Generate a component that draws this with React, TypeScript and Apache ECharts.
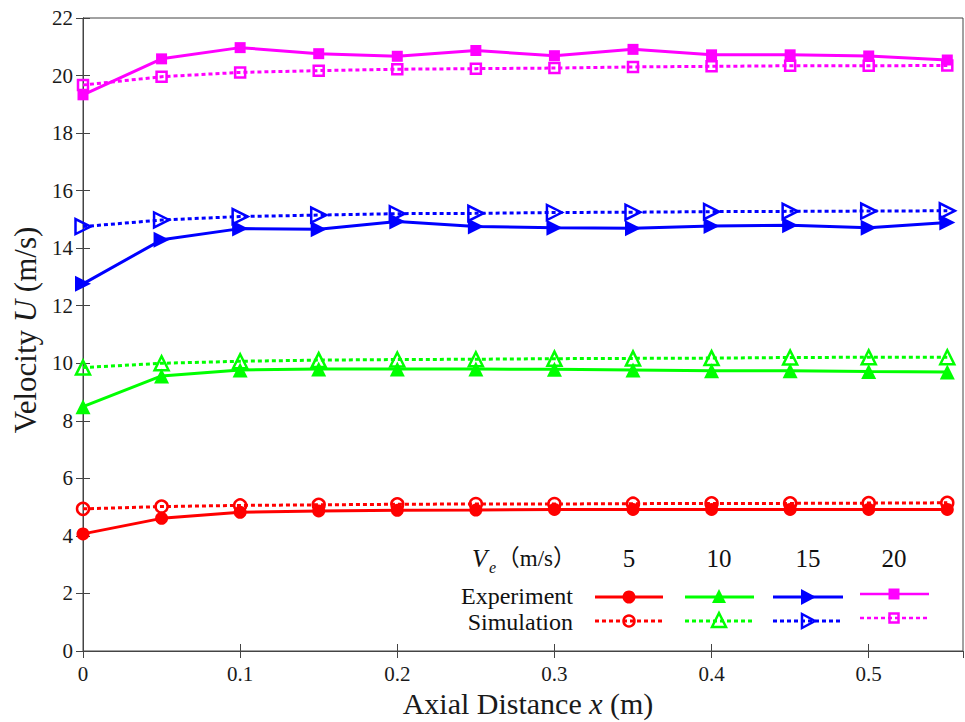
import React, { useEffect, useRef } from "react";
import * as echarts from "echarts";

const xs = [0, 0.05, 0.1, 0.15, 0.2, 0.25, 0.3, 0.35, 0.4, 0.45, 0.5, 0.55];
const exp5 = [4.07, 4.61, 4.82, 4.87, 4.89, 4.9, 4.92, 4.92, 4.92, 4.92, 4.92, 4.92];
const sim5 = [4.94, 5.02, 5.06, 5.08, 5.1, 5.11, 5.11, 5.12, 5.13, 5.13, 5.14, 5.15];
const exp10 = [8.49, 9.56, 9.77, 9.8, 9.8, 9.8, 9.79, 9.77, 9.74, 9.74, 9.71, 9.7];
const sim10 = [9.85, 10.0, 10.07, 10.11, 10.13, 10.14, 10.16, 10.17, 10.18, 10.2, 10.21, 10.21];
const exp15 = [12.76, 14.29, 14.68, 14.66, 14.93, 14.75, 14.71, 14.69, 14.77, 14.8, 14.71, 14.89];
const sim15 = [14.75, 14.98, 15.1, 15.15, 15.2, 15.21, 15.24, 15.25, 15.27, 15.28, 15.29, 15.3];
const exp20 = [19.33, 20.58, 20.97, 20.76, 20.67, 20.87, 20.69, 20.91, 20.72, 20.72, 20.68, 20.54];
const sim20 = [19.67, 19.96, 20.11, 20.17, 20.22, 20.24, 20.26, 20.3, 20.32, 20.34, 20.34, 20.35];

const veLabels = ["5", "10", "15", "20"];
const colors = ["#ff0000", "#00ff00", "#0000ff", "#ff00ff"];

const SERIF = "Liberation Serif, DejaVu Serif, Noto Sans CJK SC, serif";

function mk(name: string, vals: number[], color: string, symbol: string, size: number, rotate: number, sim: boolean) {
  return {
    name,
    type: "line",
    data: xs.map((x, i) => [x, vals[i]]),
    symbol,
    symbolSize: size,
    symbolRotate: rotate,
    clip: false,
    lineStyle: { color, width: 3, type: sim ? [4, 3] : "solid" },
    itemStyle: sim
      ? { color: "transparent", borderColor: color, borderWidth: 2.5 }
      : { color, borderColor: color, borderWidth: 0 },
    z: sim ? 2 : 3,
  };
}

function txt(x: number, y: number, text: string, size: number, align: string, italic = false) {
  return {
    type: "text",
    x,
    y,
    style: {
      text,
      fontFamily: SERIF,
      fontSize: size,
      lineHeight: Math.round(size * 0.9),
      fontStyle: italic ? "italic" : "normal",
      fill: "#111",
      verticalAlign: "middle",
      align,
    },
  };
}

function legendGraphics() {
  const g: any[] = [];
  const yE = 597;
  const yS = 621;
  g.push(txt(472, 558, "V", 25, "left", true));
  g.push(txt(489, 567, "e", 16, "left", true));
  g.push(txt(576, 558, "（m/s）", 23, "right"));
  g.push(txt(573, yE - 1, "Experiment", 24, "right"));
  g.push(txt(573, yS + 1, "Simulation", 24, "right"));
  const cols = [
    { x1: 595, x2: 663, cx: 629 },
    { x1: 685, x2: 754, cx: 719 },
    { x1: 773, x2: 843, cx: 808 },
    { x1: 860, x2: 929, cx: 894 },
  ];
  cols.forEach((c, i) => {
    const color = colors[i];
    const lw = i === 3 ? 2.5 : 3;
    const ye = i === 3 ? 594 : yE;
    const ys = i === 3 ? 618 : yS;
    g.push(txt(c.cx, 558, veLabels[i], 25, "center"));
    g.push({ type: "line", shape: { x1: c.x1, y1: ye, x2: c.x2, y2: ye }, style: { stroke: color, lineWidth: lw } });
    g.push({ type: "line", shape: { x1: c.x1, y1: ys, x2: c.x2, y2: ys }, style: { stroke: color, lineWidth: lw, lineDash: [4, 3] } });
    const filled = { fill: color, stroke: color, lineWidth: 0 };
    const hollow = { fill: "none", stroke: color, lineWidth: 2.5 };
    if (i === 0) {
      g.push({ type: "circle", shape: { cx: c.cx, cy: ye, r: 6.5 }, style: filled });
      g.push({ type: "circle", shape: { cx: c.cx, cy: ys, r: 5.5 }, style: hollow });
    } else if (i === 1) {
      g.push({ type: "polygon", shape: { points: [[c.cx, ye - 8], [c.cx + 7, ye + 6], [c.cx - 7, ye + 6]] }, style: filled });
      g.push({ type: "polygon", shape: { points: [[c.cx, ys - 8], [c.cx + 7, ys + 6], [c.cx - 7, ys + 6]] }, style: hollow });
    } else if (i === 2) {
      g.push({ type: "polygon", shape: { points: [[c.cx - 7, ye - 8], [c.cx + 8, ye], [c.cx - 7, ye + 8]] }, style: filled });
      g.push({ type: "polygon", shape: { points: [[c.cx - 6, ys - 7], [c.cx + 7, ys], [c.cx - 6, ys + 7]] }, style: hollow });
    } else {
      g.push({ type: "rect", shape: { x: c.cx - 5.5, y: ye - 5.5, width: 11, height: 11 }, style: filled });
      g.push({ type: "rect", shape: { x: c.cx - 4.5, y: ys - 4.5, width: 9, height: 9 }, style: hollow });
    }
  });
  return g;
}

export default function App() {
  const ref = useRef<HTMLDivElement>(null);
  useEffect(() => {
    if (!ref.current) return;
    const chart = echarts.init(ref.current, null, { renderer: "svg" });
    const axisColor = "#444";
    const labelStyle = { color: "#1a1a1a", fontSize: 21, fontFamily: SERIF };
    chart.setOption({
      animation: false,
      backgroundColor: "#fff",
      grid: {
        left: 83,
        right: 2,
        top: 18,
        bottom: 71,
        show: true,
        borderColor: axisColor,
        borderWidth: 1,
        containLabel: false,
        outerBoundsMode: "none",
      },
      xAxis: [
        {
          type: "value",
          min: 0,
          max: 0.56,
          interval: 0.1,
          position: "bottom",
          axisLine: { show: true, lineStyle: { color: axisColor, width: 1 } },
          axisTick: { show: true, inside: true, length: 7, lineStyle: { color: axisColor } },
          splitLine: { show: false },
          axisLabel: { ...labelStyle, margin: 12, showMaxLabel: false },
          name: "{n|Axial Distance }{i|x}{n| (m)}",
          nameLocation: "middle",
          nameGap: 34,
          nameTextStyle: {
            padding: [0, 0, 0, 10],
            rich: {
              n: { fontSize: 30, fontFamily: SERIF, color: "#1a1a1a" },
              i: { fontSize: 30, fontFamily: SERIF, fontStyle: "italic", color: "#1a1a1a" },
            },
          },
        },
        {
          type: "value",
          min: 0,
          max: 0.56,
          interval: 0.1,
          position: "top",
          axisLine: { show: true, lineStyle: { color: axisColor, width: 1 } },
          axisTick: { show: true, inside: true, length: 7, lineStyle: { color: axisColor } },
          splitLine: { show: false },
          axisLabel: { show: false },
        },
      ],
      yAxis: [
        {
          type: "value",
          min: 0,
          max: 22,
          interval: 2,
          position: "left",
          axisLine: { show: true, lineStyle: { color: axisColor, width: 1 } },
          axisTick: { show: true, inside: true, length: 7, lineStyle: { color: axisColor } },
          splitLine: { show: false },
          axisLabel: { ...labelStyle, margin: 10 },
          name: "{n|Velocity }{i|U}{n| (m/s)}",
          nameLocation: "middle",
          nameGap: 38,
          nameTextStyle: {
            padding: [0, 0, 0, 9],
            rich: {
              n: { fontSize: 31, fontFamily: SERIF, color: "#1a1a1a" },
              i: { fontSize: 31, fontFamily: SERIF, fontStyle: "italic", color: "#1a1a1a" },
            },
          },
        },
        {
          type: "value",
          min: 0,
          max: 22,
          interval: 2,
          position: "right",
          axisLine: { show: true, lineStyle: { color: axisColor, width: 1 } },
          axisTick: { show: true, inside: true, length: 7, lineStyle: { color: axisColor } },
          splitLine: { show: false },
          axisLabel: { show: false },
        },
      ],
      series: [
        mk("Simulation 5", sim5, colors[0], "circle", 12, 0, true),
        mk("Simulation 10", sim10, colors[1], "triangle", 14, 0, true),
        mk("Simulation 15", sim15, colors[2], "triangle", 15, -90, true),
        mk("Simulation 20", sim20, colors[3], "rect", 10, 0, true),
        mk("Experiment 5", exp5, colors[0], "circle", 13, 0, false),
        mk("Experiment 10", exp10, colors[1], "triangle", 15, 0, false),
        mk("Experiment 15", exp15, colors[2], "triangle", 16, -90, false),
        mk("Experiment 20", exp20, colors[3], "rect", 11, 0, false),
      ],
      graphic: legendGraphics(),
    });
    return () => chart.dispose();
  }, []);
  return <div ref={ref} style={{ position: "fixed", left: 0, top: 0, width: 965, height: 722 }} />;
}
